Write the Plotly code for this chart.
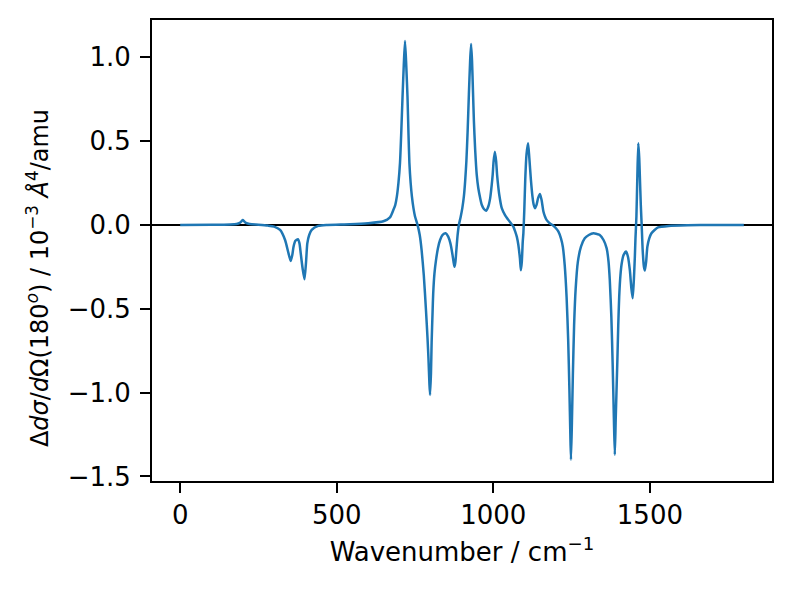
import plotly.graph_objects as go

# Hand-read spectrum samples (wavenumber / cm^-1, intensity / 10^-3 A^4/amu)
wavenumber = [
    0, 100, 160, 180, 190, 196, 200, 204, 210, 222, 250, 280, 300, 319, 335, 346, 353, 358,
    362, 368, 376, 381, 385, 391, 397, 402, 406, 412, 420, 441, 470, 542, 600, 649, 670, 681,
    687, 692, 697, 702, 706, 710, 714, 718, 722, 726, 729, 732, 736, 740, 745, 750, 758, 765,
    771, 778, 785, 790, 793, 796, 798, 801, 803, 806, 808, 812, 817, 823, 830, 838, 848, 856,
    863, 869, 873, 876, 879, 882, 886, 890, 896, 901, 906, 910, 914, 918, 922, 926, 929, 932,
    935, 938, 942, 947, 952, 958, 963, 970, 977, 984, 990, 995, 998, 1001, 1005, 1009, 1012,
    1014, 1019, 1027, 1037, 1048, 1056, 1064, 1070, 1075, 1080, 1085, 1088, 1091, 1094, 1096,
    1099, 1102, 1106, 1111, 1115, 1120, 1125, 1129, 1133, 1138, 1143, 1149, 1154, 1160, 1165,
    1170, 1180, 1192, 1200, 1208, 1216, 1222, 1228, 1234, 1239, 1243, 1246, 1248, 1251, 1254,
    1258, 1263, 1270, 1280, 1292, 1305, 1320, 1332, 1340, 1352, 1362, 1368, 1372, 1377, 1381,
    1385, 1388, 1391, 1396, 1399, 1402, 1406, 1410, 1416, 1424, 1430, 1436, 1441, 1445, 1449,
    1452, 1454, 1457, 1460, 1463, 1466, 1468, 1471, 1474, 1477, 1481, 1484, 1488, 1492, 1498,
    1505, 1515, 1526, 1560, 1620, 1700, 1800,
]
intensity = [
    0.0, 0.001, 0.003, 0.006, 0.012, 0.022, 0.030, 0.022, 0.012, 0.005, 0.001, -0.004, -0.010,
    -0.03, -0.09, -0.17, -0.215, -0.18, -0.13, -0.095, -0.085, -0.11, -0.17, -0.26, -0.324,
    -0.22, -0.11, -0.06, -0.03, -0.006, 0.0, 0.004, 0.010, 0.022, 0.045, 0.09, 0.12, 0.17, 0.25,
    0.37, 0.55, 0.76, 0.95, 1.097, 0.95, 0.76, 0.55, 0.37, 0.25, 0.17, 0.10, 0.05, 0.0, -0.06,
    -0.15, -0.30, -0.51, -0.68, -0.80, -0.95, -1.014, -0.88, -0.70, -0.52, -0.41, -0.29, -0.21,
    -0.14, -0.09, -0.06, -0.05, -0.07, -0.11, -0.17, -0.22, -0.25, -0.22, -0.15, -0.06, 0.0,
    0.05, 0.10, 0.17, 0.26, 0.38, 0.56, 0.78, 0.98, 1.079, 0.98, 0.80, 0.62, 0.45, 0.30, 0.22,
    0.16, 0.12, 0.095, 0.085, 0.11, 0.16, 0.24, 0.30, 0.38, 0.437, 0.38, 0.30, 0.26, 0.18, 0.10,
    0.06, 0.03, 0.01, -0.01, -0.04, -0.07, -0.12, -0.20, -0.27, -0.22, -0.10, -0.05, 0.09, 0.27,
    0.42, 0.487, 0.40, 0.27, 0.17, 0.12, 0.10, 0.12, 0.16, 0.185, 0.15, 0.08, 0.05, 0.03, 0.01,
    -0.005, -0.02, -0.04, -0.08, -0.13, -0.24, -0.43, -0.68, -0.98, -1.25, -1.40, -1.18, -0.90,
    -0.60, -0.38, -0.22, -0.13, -0.08, -0.06, -0.05, -0.055, -0.06, -0.09, -0.14, -0.22, -0.33,
    -0.55, -0.82, -1.15, -1.371, -1.15, -0.82, -0.60, -0.43, -0.30, -0.23, -0.18, -0.159, -0.19,
    -0.27, -0.38, -0.437, -0.32, -0.19, -0.08, 0.05, 0.29, 0.487, 0.40, 0.29, 0.12, -0.01, -0.15,
    -0.25, -0.272, -0.22, -0.13, -0.08, -0.05, -0.03, -0.015, -0.006, -0.002, 0.0, 0.0,
]

x_ticks = [0, 500, 1000, 1500]
y_ticks = [-1.5, -1.0, -0.5, 0.0, 0.5, 1.0]

FONT = "DejaVu Sans"
FS = 26

fig = go.Figure()
fig.add_trace(go.Scatter(
    x=wavenumber, y=intensity, mode="lines",
    line=dict(color="#1f77b4", width=2.5, shape="spline", smoothing=0.6),
    hoverinfo="skip", showlegend=False,
))

axis_common = dict(
    showline=True, linecolor="black", linewidth=2, mirror=True,
    ticks="outside", ticklen=10, tickwidth=2, tickcolor="black",
    showgrid=False,
    tickfont=dict(family=FONT, size=FS, color="black"),
)

fig.update_layout(
    width=791, height=592,
    margin=dict(l=152, r=19, t=20, b=111),
    paper_bgcolor="white", plot_bgcolor="white",
    font=dict(family=FONT, size=FS, color="black"),
    xaxis=dict(
        range=[-90, 1890], tickvals=x_ticks,
        title=dict(text="Wavenumber / cm<sup>−1</sup>", font=dict(family=FONT, size=FS), standoff=14),
        zeroline=False,
        **axis_common,
    ),
    yaxis=dict(
        range=[-1.527, 1.222], tickvals=y_ticks, tickformat=".1f",
        ticklabelstandoff=4,
        zeroline=True, zerolinecolor="black", zerolinewidth=2,
        **axis_common,
    ),
    annotations=[dict(
        text="Δ<i>dσ</i>/<i>d</i>Ω(180<sup><i>o</i></sup>) / 10<sup>−3</sup> <i>Å</i><sup>4</sup>/amu",
        xref="paper", yref="paper", x=-0.184, y=0.44,
        xanchor="center", yanchor="middle", textangle=-90,
        showarrow=False, font=dict(family=FONT, size=24, color="black"),
    )],
)

fig.write_html("out.html")
